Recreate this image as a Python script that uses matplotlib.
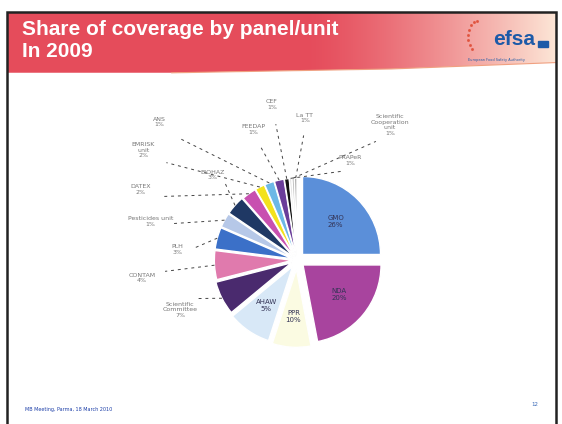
import numpy as np
import matplotlib
matplotlib.use('Agg')
import matplotlib.pyplot as plt
from matplotlib.patches import Rectangle, Polygon

# slice data, clockwise from 12 o'clock
units = ['GMO', 'NDA', 'PPR', 'AHAW', 'Scientific\nCommittee', 'CONTAM', 'PLH',
         'Pesticides unit', 'BIOHAZ', 'DATEX', 'EMRISK\nunit', 'ANS', 'FEEDAP',
         'CEF', 'PRAPeR', 'Scientific\nCooperation\nunit', 'La TT']
shares = [25, 22, 8, 9, 7, 6, 4.5, 3, 4, 3, 2, 2, 2, 1, 0.5, 0.5, 0.5]
pct_text = ['26%', '20%', '10%', '5%', '7%', '4%', '3%', '1%', '3%', '2%', '2%',
            '1%', '1%', '1%', '1%', '1%', '1%']
colors = ['#5b8fd9', '#a8449e', '#fbfbe2', '#d8e8f7', '#4a2a6e', '#e07aad',
          '#3b70c8', '#b6c8e8', '#1f3864', '#c850b0', '#f3e21c', '#6cb8e6',
          '#6a3d9a', '#111111', '#dddddd', '#bbbbbb', '#999999']
explode = [0.1, 0.1, 0.12, 0.1, 0.08, 0.06, 0.06, 0.06, 0.06, 0.05, 0.05,
           0.05, 0.05, 0.05, 0.05, 0.05, 0.05]

# outside label spots (data units, pie radius = 1); None -> inside the slice
label_pos = [None, None, None, None, (-1.5, -0.64), (-1.99, -0.23),
             (-1.53, 0.13), (-1.88, 0.49), (-1.08, 1.09), (-2.01, 0.90),
             (-1.97, 1.41), (-1.76, 1.77), (-0.56, 1.67), (-0.32, 1.99),
             (0.68, 1.28), (1.19, 1.73), (0.10, 1.82)]

W, H = 562, 424
fig = plt.figure(figsize=(W / 100, H / 100), dpi=100)
fig.patch.set_facecolor('white')

# title band with gradient
band = fig.add_axes([7 / W, 1 - 76 / H, 549 / W, 64 / H])
grad = np.linspace(0, 1, 300)
left = np.array([0.90, 0.30, 0.36])
right = np.array([0.99, 0.90, 0.84])
t = np.clip((grad - 0.55) / 0.45, 0, 1) ** 1.3
img = left[None, :] * (1 - t[:, None]) + right[None, :] * t[:, None]
band.imshow(img[None, :, :], aspect='auto', extent=[0, 1, 0, 1])
band.set_xlim(0, 1)
band.set_ylim(0, 1)
band.axis('off')
band.add_patch(Polygon([[0, 0], [1, 0], [1, 0.2], [0.7, 0.1], [0.3, 0.04], [0, 0.04]],
                       closed=True, color='white', zorder=3))
band.plot([0.3, 0.7, 1.0], [0.05, 0.11, 0.21], color='#f0a080', lw=0.8, zorder=4)
band.text(0.028, 0.87, 'Share of coverage by panel/unit\nIn 2009', color='white',
          fontsize=15, fontweight='bold', family='Liberation Sans',
          va='top', ha='left', linespacing=1.2)
band.text(0.885, 0.42, 'efsa', color='#1d5aa8', fontsize=15, fontweight='bold',
          family='Liberation Sans', ha='left', va='bottom')
band.add_patch(Rectangle((0.967, 0.45), 0.018, 0.1, color='#1d5aa8', zorder=4))
band.text(0.84, 0.25, 'European Food Safety Authority', color='#1d5aa8',
          fontsize=2.5, ha='left', va='center')
for a in np.linspace(100, 230, 8):
    band.plot(0.86 + 0.02 * np.cos(np.radians(a)), 0.62 + 0.25 * np.sin(np.radians(a)),
              'o', ms=1.2, color='#e0503a', alpha=0.8)

# slide border
fig.add_artist(Rectangle((7 / W, -0.01), 549 / W, 1 - 12 / H + 0.01,
                         transform=fig.transFigure, fill=False, lw=1.8,
                         edgecolor='#222222'))

# pie
cx, cy, r = 297, 260, 78
span = 2.6
ax = fig.add_axes([(cx - span * r) / W, 1 - (cy + span * r) / H,
                   2 * span * r / W, 2 * span * r / H])
wedges, _ = ax.pie(shares, colors=colors, explode=explode, startangle=90,
                   counterclock=False, radius=1,
                   wedgeprops=dict(edgecolor='white', linewidth=1))
ax.set_xlim(-span, span)
ax.set_ylim(-span, span)
ax.set_aspect('equal')
ax.axis('off')

for i, w in enumerate(wedges):
    mid = np.radians((w.theta1 + w.theta2) / 2)
    off = explode[i]
    text = units[i] + '\n' + pct_text[i]
    if label_pos[i] is None:
        rr = 0.6 + off
        ax.text(rr * np.cos(mid), rr * np.sin(mid), text, ha='center',
                va='center', fontsize=5, color='#333355')
    else:
        lx, ly = label_pos[i]
        ex, ey = (1 + off) * np.cos(mid), (1 + off) * np.sin(mid)
        ax.plot([ex, lx * 0.85], [ey, ly * 0.85 + 0.05], ls=(0, (3, 4)),
                color='#444444', lw=0.7)
        ax.text(lx, ly, text, ha='center', va='center', fontsize=4.5,
                color='#777777')

# footer
fig.text(25 / W, 1 - 410 / H, 'MB Meeting, Parma, 18 March 2010',
         color='#1d3fa8', fontsize=3.5, ha='left', va='center')
fig.text(535 / W, 1 - 404 / H, '12', color='#3a6ab8', fontsize=4,
         ha='center', va='center')

fig.savefig('out.png', dpi=100)
